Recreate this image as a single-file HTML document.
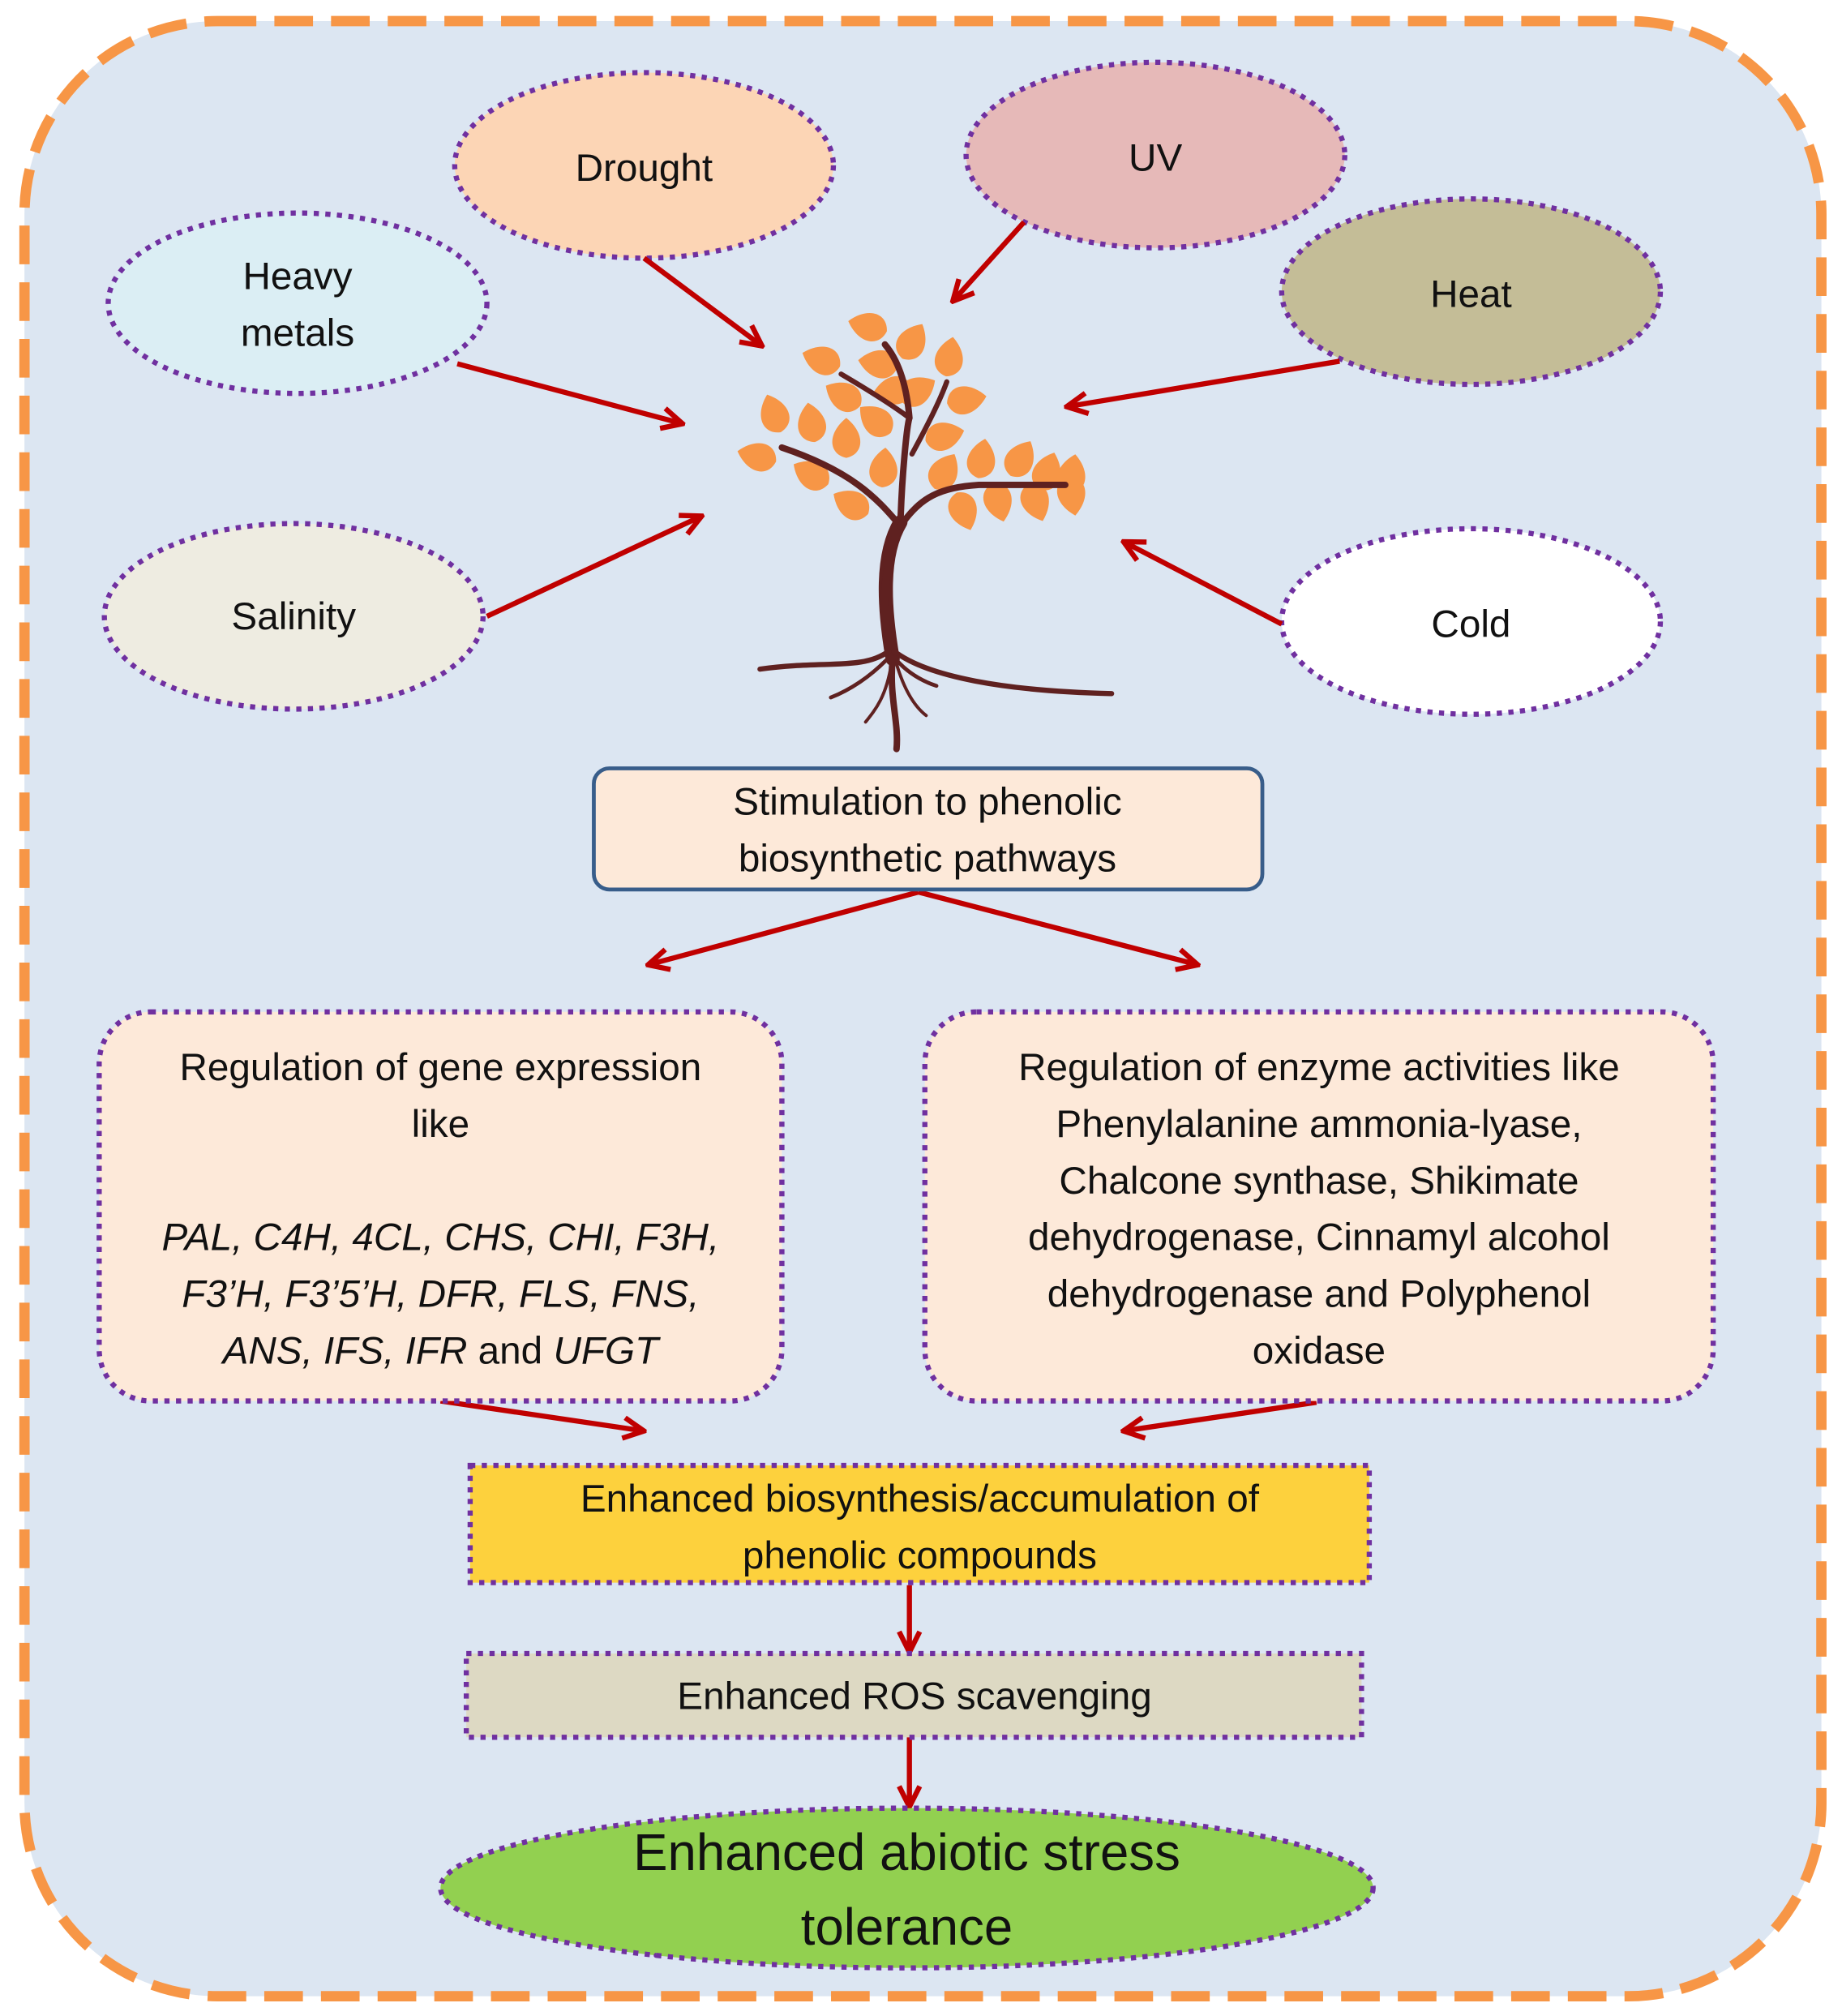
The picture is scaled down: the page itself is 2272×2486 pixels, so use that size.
<!DOCTYPE html>
<html><head><meta charset="utf-8"><style>
html,body{margin:0;padding:0;background:#fff;}
svg{display:block;}
text{font-family:"Liberation Sans",sans-serif;fill:#111;}
</style></head><body>
<svg width="2272" height="2486" viewBox="0 0 1430 1564" xmlns="http://www.w3.org/2000/svg">
<defs>
<marker id="ah" viewBox="0 0 10 10" refX="8" refY="5" markerWidth="5" markerHeight="5" orient="auto-start-reverse" markerUnits="strokeWidth">
<path d="M1,1 L9,5 L1,9" fill="none" stroke="#c00000" stroke-width="2"/>
</marker>
<g id="leaf"><path d="M0,15 C14,12 15,-4 0,-16 C-15,-4 -14,12 0,15Z" fill="#f79646"/></g>
</defs>
<rect x="0" y="0" width="1430" height="1564" fill="#fff"/>
<rect x="19" y="16" width="1395" height="1533" rx="150" fill="#dce6f2" stroke="#f79646" stroke-width="8" stroke-dasharray="30,14"/>

<g stroke="#7030a0" stroke-width="4" stroke-dasharray="4,5">
<ellipse cx="500" cy="128" rx="147" ry="72" fill="#fcd5b5"/>
<ellipse cx="897" cy="120" rx="147" ry="72" fill="#e6b9b8"/>
<ellipse cx="231" cy="235" rx="147" ry="70" fill="#dbeef4"/>
<ellipse cx="1142" cy="226" rx="147" ry="72" fill="#c4bd97"/>
<ellipse cx="228" cy="478" rx="147" ry="72" fill="#eeece1"/>
<ellipse cx="1142" cy="482" rx="147" ry="72" fill="#ffffff"/>
</g>
<g font-size="30" text-anchor="middle">
<text x="500" y="140">Drought</text>
<text x="897" y="132">UV</text>
<text x="231" y="224">Heavy</text>
<text x="231" y="268">metals</text>
<text x="1142" y="238">Heat</text>
<text x="228" y="488">Salinity</text>
<text x="1142" y="494">Cold</text>
</g>

<g stroke="#c00000" stroke-width="4" fill="none" marker-end="url(#ah)">
<line x1="500" y1="200" x2="590" y2="267"/>
<line x1="795" y1="172" x2="741" y2="232"/>
<line x1="355" y1="282" x2="528" y2="328"/>
<line x1="1040" y1="280" x2="830" y2="315"/>
<line x1="378" y1="478" x2="543" y2="401"/>
<line x1="995" y1="484" x2="874" y2="421"/>
<line x1="713" y1="692" x2="505" y2="748"/>
<line x1="713" y1="692" x2="928" y2="748"/>
<line x1="342" y1="1087" x2="498" y2="1110"/>
<line x1="1022" y1="1088" x2="874" y2="1110"/>
<line x1="706" y1="1230" x2="706" y2="1280"/>
<line x1="706" y1="1348" x2="706" y2="1400"/>
</g>

<!-- tree -->
<g>
<use href="#leaf" transform="translate(674,253) rotate(-75)"/>
<use href="#leaf" transform="translate(708,265) rotate(30)"/>
<use href="#leaf" transform="translate(638,279) rotate(-70)"/>
<use href="#leaf" transform="translate(682,282) rotate(-80)"/>
<use href="#leaf" transform="translate(737,277) rotate(10)"/>
<use href="#leaf" transform="translate(655,307) rotate(-60)"/>
<use href="#leaf" transform="translate(693,303) rotate(-100)"/>
<use href="#leaf" transform="translate(712,303) rotate(60)"/>
<use href="#leaf" transform="translate(750,310) rotate(80)"/>
<use href="#leaf" transform="translate(680,326) rotate(-50)"/>
<use href="#leaf" transform="translate(601,321) rotate(-20)"/>
<use href="#leaf" transform="translate(630,328) rotate(-10)"/>
<use href="#leaf" transform="translate(657,340) rotate(0)"/>
<use href="#leaf" transform="translate(733,338) rotate(75)"/>
<use href="#leaf" transform="translate(588,354) rotate(-75)"/>
<use href="#leaf" transform="translate(630,368) rotate(-60)"/>
<use href="#leaf" transform="translate(686,363) rotate(5)"/>
<use href="#leaf" transform="translate(733,366) rotate(30)"/>
<use href="#leaf" transform="translate(762,356) rotate(10)"/>
<use href="#leaf" transform="translate(792,356) rotate(30)"/>
<use href="#leaf" transform="translate(813,366) rotate(20)"/>
<use href="#leaf" transform="translate(832,368) rotate(10)"/>
<use href="#leaf" transform="translate(661,391) rotate(-60)"/>
<use href="#leaf" transform="translate(748,396) rotate(160)"/>
<use href="#leaf" transform="translate(775,389) rotate(165)"/>
<use href="#leaf" transform="translate(804,389) rotate(160)"/>
<use href="#leaf" transform="translate(832,384) rotate(170)"/>
</g>
<g fill="none" stroke="#5f2120" stroke-linecap="round">
<path d="M693,511 C686,470 684,430 699,405" stroke-width="11"/>
<path d="M693,505 C680,470 690,430 699,405" stroke-width="6"/>
<path d="M699,408 C700,370 704,330 706,324 C704,300 698,280 687,267" stroke-width="5"/>
<path d="M699,408 C680,385 660,365 607,347" stroke-width="5"/>
<path d="M706,324 C690,312 670,300 653,290" stroke-width="4"/>
<path d="M699,408 C715,385 730,378 760,376 L827,376" stroke-width="5"/>
<path d="M708,352 C720,330 730,310 735,296" stroke-width="4"/>
<path d="M690,505 C670,520 640,512 590,519" stroke-width="4"/>
<path d="M694,505 C720,525 780,536 863,538" stroke-width="4"/>
<path d="M688,512 C675,525 660,535 645,541" stroke-width="3"/>
<path d="M696,512 C705,522 715,528 727,532" stroke-width="3"/>
<path d="M692,515 C688,540 680,550 672,560" stroke-width="2.5"/>
<path d="M696,515 C702,535 710,548 719,555" stroke-width="2.5"/>
<path d="M693,511 C690,540 698,560 696,581" stroke-width="5"/>
</g>

<rect x="461" y="596" width="519" height="94" rx="12" fill="#fde9d9" stroke="#385d8a" stroke-width="3"/>
<g font-size="30" text-anchor="middle">
<text x="720" y="632">Stimulation to phenolic</text>
<text x="720" y="676">biosynthetic pathways</text>
</g>

<g stroke="#7030a0" stroke-width="4" stroke-dasharray="4,5">
<rect x="77" y="785" width="530" height="302" rx="40" fill="#fde9d9"/>
<rect x="718" y="785" width="612" height="302" rx="40" fill="#fde9d9"/>
<rect x="365" y="1137" width="698" height="91" fill="#fdd13d"/>
<rect x="362" y="1283" width="695" height="65" fill="#ddd9c3"/>
<ellipse cx="704" cy="1465" rx="362" ry="62" fill="#92d050"/>
</g>
<g font-size="30" text-anchor="middle">
<text x="342" y="838">Regulation of gene expression</text>
<text x="342" y="882">like</text>
<text x="342" y="970" font-style="italic">PAL, C4H, 4CL, CHS, CHI, F3H,</text>
<text x="342" y="1014" font-style="italic">F3’H, F3’5’H, DFR, FLS, FNS,</text>
<text x="342" y="1058"><tspan font-style="italic">ANS, IFS, IFR</tspan> and <tspan font-style="italic">UFGT</tspan></text>
<text x="1024" y="838">Regulation of enzyme activities like</text>
<text x="1024" y="882">Phenylalanine ammonia-lyase,</text>
<text x="1024" y="926">Chalcone synthase,   Shikimate</text>
<text x="1024" y="970">dehydrogenase, Cinnamyl alcohol</text>
<text x="1024" y="1014">dehydrogenase and Polyphenol</text>
<text x="1024" y="1058">oxidase</text>
<text x="714" y="1173">Enhanced biosynthesis/accumulation of</text>
<text x="714" y="1217">phenolic compounds</text>
<text x="710" y="1326">Enhanced ROS scavenging</text>
<text x="704" y="1451" font-size="40">Enhanced abiotic stress</text>
<text x="704" y="1509" font-size="40">tolerance</text>
</g>
</svg>
</body></html>
